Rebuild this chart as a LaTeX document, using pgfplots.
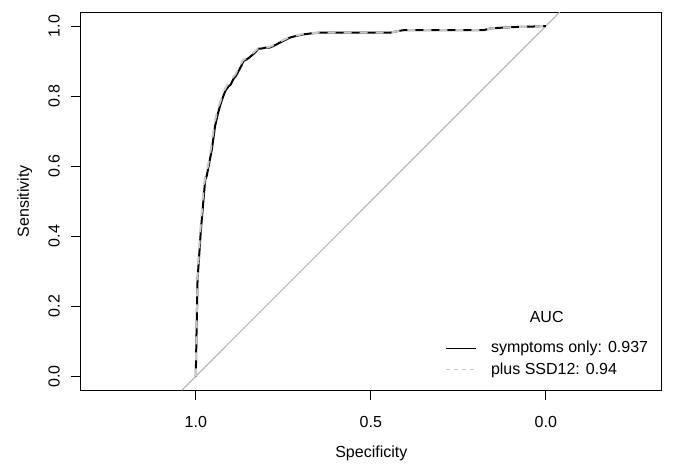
\documentclass[border=0pt]{standalone}
\usepackage{fontspec}
\setmainfont{Liberation Sans}
\usepackage{pgfplots}
\pgfplotsset{compat=1.18}
\definecolor{diag}{RGB}{176,176,176}
\definecolor{lgray}{RGB}{200,200,200}
\begin{document}
\fontsize{12}{14}\selectfont
\begin{tikzpicture}
\begin{axis}[
  scale only axis,
  width=435.5pt, height=283.7pt,
  x dir=reverse,
  xmin=-0.331, xmax=1.328,
  ymin=-0.04, ymax=1.04,
  axis line style={line width=0.75pt},
  tick style={line width=0.75pt, black},
  tick align=outside,
  major tick length=7.2pt,
  xtick pos=lower, ytick pos=left,
  xtick={1,0.5,0}, xticklabels={1.0,0.5,0.0},
  ytick={0,0.2,0.4,0.6,0.8,1.0},
  yticklabels={0.0,0.2,0.4,0.6,0.8,1.0},
  xticklabel style={font=\fontsize{12}{14}\selectfont, yshift=-8pt},
  yticklabel style={font=\fontsize{12}{14}\selectfont, xshift=-4.5pt, rotate=90, anchor=south},
  xlabel={Specificity}, ylabel={Sensitivity},
  every axis x label/.style={at={(rel axis cs:0.5,0)}, yshift=-47pt, anchor=center, font=\fontsize{12}{14}\selectfont},
  every axis y label/.style={at={(rel axis cs:0,0.5)}, xshift=-42.2pt, rotate=90, anchor=center, font=\fontsize{12}{14}\selectfont},
  legend cell align=left,
  legend style={draw=none, fill=none, inner sep=0pt, row sep=2pt, column sep=9pt,
    at={(rel axis cs:0.627,0.138)}, anchor=north west,
    font=\fontsize{12}{14}\selectfont},
]
\addplot[diag, line width=0.75pt, forget plot] coordinates {(1.04,-0.04) (-0.04,1.04)};
\addplot[black, line width=1.5pt, forget plot] coordinates {
(1.000,0.000) (0.998,0.120) (0.996,0.220) (0.995,0.276) (0.990,0.350) (0.986,0.410)
(0.978,0.505) (0.973,0.562) (0.969,0.571) (0.961,0.612) (0.954,0.648) (0.945,0.714)
(0.938,0.745) (0.931,0.771) (0.925,0.790) (0.916,0.814) (0.907,0.827) (0.900,0.833)
(0.893,0.848) (0.885,0.858) (0.878,0.871) (0.870,0.886) (0.864,0.900) (0.854,0.905)
(0.847,0.910) (0.840,0.916) (0.830,0.925) (0.821,0.935) (0.810,0.936) (0.802,0.938)
(0.790,0.938) (0.778,0.943) (0.768,0.948) (0.759,0.953) (0.745,0.960) (0.731,0.967)
(0.712,0.972) (0.693,0.976) (0.670,0.979) (0.645,0.981) (0.550,0.981) (0.445,0.981)
(0.420,0.986) (0.407,0.988) (0.300,0.988) (0.178,0.988) (0.159,0.993) (0.130,0.995)
(0.093,0.997) (0.050,0.998) (0.000,1.000)};
\addplot[lgray, line width=1.5pt, dash pattern=on 6pt off 6pt, forget plot] coordinates {
(1.000,0.000) (0.998,0.125) (0.996,0.225) (0.995,0.280) (0.991,0.355) (0.987,0.415)
(0.980,0.510) (0.974,0.565) (0.970,0.578) (0.962,0.618) (0.956,0.655) (0.947,0.720)
(0.940,0.752) (0.933,0.776) (0.926,0.795) (0.918,0.818) (0.910,0.832) (0.902,0.838)
(0.895,0.852) (0.887,0.862) (0.880,0.875) (0.872,0.889) (0.866,0.902) (0.856,0.908)
(0.848,0.913) (0.841,0.919) (0.831,0.928) (0.822,0.936) (0.811,0.938) (0.803,0.940)
(0.791,0.940) (0.779,0.945) (0.769,0.950) (0.760,0.955) (0.746,0.962) (0.732,0.968)
(0.713,0.973) (0.694,0.977) (0.670,0.980) (0.645,0.981) (0.550,0.981) (0.445,0.981)
(0.420,0.986) (0.407,0.988) (0.300,0.988) (0.178,0.988) (0.159,0.993) (0.130,0.995)
(0.093,0.997) (0.050,0.998) (0.000,1.000)};
\addlegendimage{legend image code/.code={\draw[black, line width=0.75pt] (0pt,0pt) -- (22.5pt,0pt);}}
\addlegendentry{symptoms only: 0.937}
\addlegendimage{legend image code/.code={\draw[lgray, line width=0.75pt, dash pattern=on 3pt off 3pt] (0pt,0pt) -- (22.5pt,0pt);}}
\addlegendentry{plus SSD12: 0.94}
\node[font=\fontsize{12}{14}\selectfont] at (rel axis cs:0.802,0.195) {AUC};
\coordinate (sw) at (rel axis cs:0,0);
\coordinate (ne) at (rel axis cs:1,1);
\end{axis}
\path ([shift={(-60.75pt,-53pt)}]sw) rectangle ([shift={(8.5pt,9pt)}]ne);
\end{tikzpicture}
\end{document}
